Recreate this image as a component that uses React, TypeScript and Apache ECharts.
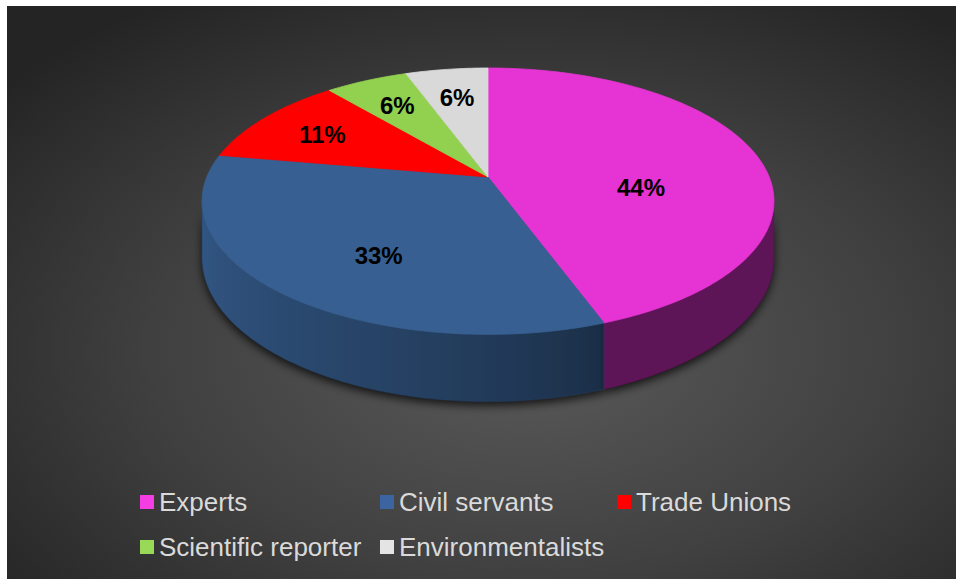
import React, { useEffect, useRef } from 'react';
import * as echarts from 'echarts';

// ---- data ----
const categories = ['Experts', 'Civil servants', 'Trade Unions', 'Scientific reporter', 'Environmentalists'];
const counts = [8, 6, 2, 1, 1];

// ---- styles ----
const sliceColors = ['#E633D3', '#375F91', '#FF0000', '#92D050', '#D9D9D9'];
const legendColors = ['#F43DE2', '#3B64A0', '#FF0000', '#98D957', '#E4E4E4'];
const legendSlots = [
  { left: 140, top: 489 },
  { left: 380, top: 489 },
  { left: 617, top: 489 },
  { left: 140, top: 534 },
  { left: 380, top: 534 },
];
const FONT = '"Liberation Sans", Arial, Helvetica, sans-serif';

// ---- projection (perspective-ish tilted disc) ----
const CX = 488;
const CY = 177;
const RA = 281.2;
const RB = 128.8;
const K = 0.1816;
const DEPTH = 55;
const LABEL_PUSH = 1.12;

const total = counts.reduce((a, b) => a + b, 0);
const cumStart = counts.map((_, i) => counts.slice(0, i).reduce((a, b) => a + b, 0));

function project(thetaDeg: number, f: number) {
  const t = (thetaDeg * Math.PI) / 180;
  const u = f * Math.sin(t);
  const v = f * Math.cos(t);
  const s = 1 / (1 + K * v);
  return [CX + RA * u * s, CY - RB * v * s, s];
}

function hexToRgb(hex: string) {
  const h = hex.replace('#', '');
  return [parseInt(h.slice(0, 2), 16), parseInt(h.slice(2, 4), 16), parseInt(h.slice(4, 6), 16)];
}
function shade(hex: string, f: number) {
  const [r, g, b] = hexToRgb(hex);
  const c = (x: number) => Math.max(0, Math.min(255, Math.round(x * f)));
  return `rgb(${c(r)},${c(g)},${c(b)})`;
}
function sideFactor(theta: number) {
  if (theta <= 160) return 0.41;
  const t = Math.min(1, Math.max(0, (theta - 160) / 100));
  return 0.47 + 0.45 * Math.pow(t, 0.7);
}
function centroid(pts: number[][]) {
  let A = 0, cx = 0, cy = 0;
  for (let i = 0; i < pts.length; i++) {
    const [x0, y0] = pts[i];
    const [x1, y1] = pts[(i + 1) % pts.length];
    const cr = x0 * y1 - x1 * y0;
    A += cr;
    cx += (x0 + x1) * cr;
    cy += (y0 + y1) * cr;
  }
  A /= 2;
  return [cx / (6 * A), cy / (6 * A)];
}

const VIS_START = (Math.acos(-K) * 180) / Math.PI;
const VIS_END = 360 - VIS_START;

function renderItem(params: any, api: any) {
  const i = params.seriesIndex;
  const value = api.value(0);
  const start = (cumStart[i] / total) * 360;
  const end = start + (value / total) * 360;
  const color = sliceColors[i];
  const children: any[] = [];

  // top face
  const topPts: number[][] = [[CX, CY]];
  const n = Math.max(4, Math.ceil(end - start));
  for (let k = 0; k <= n; k++) {
    const th = start + ((end - start) * k) / n;
    const p = project(th, 1);
    topPts.push([p[0], p[1]]);
  }

  // side wall (visible front part)
  const a = Math.max(start, VIS_START);
  const b = Math.min(end, VIS_END);
  if (b > a) {
    const m = Math.max(4, Math.ceil(b - a));
    const upper: number[][] = [];
    const lower: number[][] = [];
    const samples: { x: number; th: number }[] = [];
    for (let k = 0; k <= m; k++) {
      const th = a + ((b - a) * k) / m;
      const p = project(th, 1);
      upper.push([p[0], p[1]]);
      lower.push([p[0], p[1] + DEPTH * p[2]]);
      samples.push({ x: p[0], th });
    }
    const xs = samples.map((s) => s.x);
    const minX = Math.min(...xs);
    const maxX = Math.max(...xs);
    const stops = samples
      .map((s) => ({ offset: (s.x - minX) / (maxX - minX || 1), color: shade(color, sideFactor(s.th)) }))
      .sort((p, q) => p.offset - q.offset);
    const sidePts = upper.concat(lower.reverse());
    children.push({
      type: 'polygon',
      z2: 0,
      shape: { points: sidePts },
      style: {
        fill: 'rgba(0,0,0,0.9)',
        shadowBlur: 10,
        shadowOffsetY: 4,
        shadowColor: 'rgba(0,0,0,0.85)',
      },
    });
    children.push({
      type: 'polygon',
      z2: 1,
      shape: { points: sidePts },
      style: {
        fill: { type: 'linear', x: 0, y: 0, x2: 1, y2: 0, colorStops: stops },
        stroke: shade(color, sideFactor((a + b) / 2)),
        lineWidth: 0.5,
      },
    });
  }

  children.push({
    type: 'polygon',
    z2: 2,
    shape: { points: topPts },
    style: { fill: color, stroke: color, lineWidth: 0.8 },
  });

  // label at the (pushed-out) centroid of the projected top face
  const c = centroid(topPts);
  const lx = CX + (c[0] - CX) * LABEL_PUSH;
  const ly = CY + (c[1] - CY) * LABEL_PUSH;
  const pct = Math.round((value / total) * 100) + '%';
  children.push({
    type: 'text',
    z2: 3,
    x: lx,
    y: ly,
    style: {
      text: pct,
      fill: '#000000',
      font: `bold 24px ${FONT}`,
      align: 'center',
      verticalAlign: 'middle',
    },
  });

  return { type: 'group', children };
}

export default function App() {
  const ref = useRef<HTMLDivElement>(null);
  useEffect(() => {
    document.body.style.margin = '0';
    document.body.style.background = '#ffffff';
    if (!ref.current) return;
    const chart = echarts.init(ref.current, undefined, { renderer: 'svg' });
    const option: any = {
      animation: false,
      textStyle: { fontFamily: FONT },
      graphic: [
        {
          type: 'rect',
          z: -10,
          silent: true,
          shape: { x: 7, y: 6, width: 949, height: 573 },
          style: {
            fill: {
              type: 'radial',
              x: 0.55,
              y: 0.6,
              r: 0.72,
              colorStops: [
                { offset: 0, color: '#5a5a5a' },
                { offset: 0.55, color: '#404040' },
                { offset: 1, color: '#242424' },
              ],
            },
          },
        },
      ],
      legend: categories.map((c, i) => ({
        data: [{ name: c, itemStyle: { color: legendColors[i] } }],
        left: legendSlots[i].left,
        top: legendSlots[i].top,
        padding: 0,
        icon: 'rect',
        itemWidth: 14,
        itemHeight: 14,
        itemGap: 0,
        selectedMode: false,
        textStyle: { color: '#DADADA', fontSize: 26, fontFamily: FONT },
      })),
      series: categories.map((c, i) => ({
        type: 'custom',
        name: c,
        coordinateSystem: 'none',
        silent: true,
        itemStyle: { color: sliceColors[i] },
        data: [[counts[i]]],
        renderItem,
      })),
    };
    chart.setOption(option);
    return () => chart.dispose();
  }, []);
  return <div ref={ref} style={{ width: 956, height: 579 }} />;
}
